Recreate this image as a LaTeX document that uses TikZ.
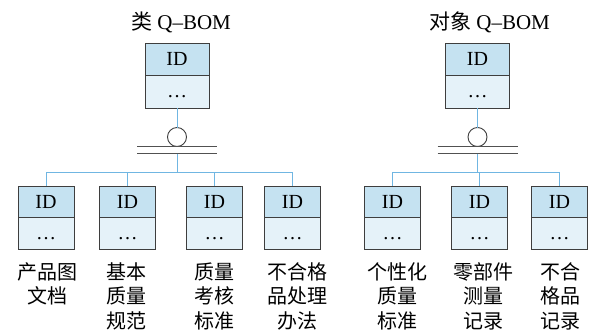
\documentclass[tikz,border=0pt]{standalone}
\usepackage{fontspec}
\setmainfont{Liberation Serif}
\newfontfamily\cjk{Noto Sans CJK SC}
\usetikzlibrary{positioning}

\definecolor{idblue}{RGB}{197,226,241}
\definecolor{dotblue}{RGB}{229,242,249}
\definecolor{boxline}{RGB}{62,62,62}
\definecolor{linkblue}{RGB}{112,182,226}

\begin{document}
\begin{tikzpicture}[x=1pt,y=-1pt,
		idcell/.style={draw=boxline,fill=idblue,line width=0.8pt,minimum width=56pt,minimum height=31.5pt,inner sep=0pt,outer sep=0pt,font=\fontsize{20}{20}\selectfont},
		dotcell/.style={idcell,fill=dotblue,text height=12pt,text depth=0pt},
		bigcell/.style={minimum width=64pt,minimum height=32.5pt},
		link/.style={draw=linkblue,line width=0.8pt},
		bar/.style={draw=boxline!90,line width=1pt},
		joint/.style={circle,draw=boxline,line width=0.9pt,minimum size=19pt,inner sep=0pt,outer sep=0pt},
		lab/.style={font=\cjk\fontsize{20}{24.5}\selectfont,align=center,inner sep=0pt},
		ttl/.style={font=\fontsize{21}{21}\selectfont,anchor=base,inner sep=0pt}]
				\useasboundingbox (0,0) rectangle (592,333);
				% class Q-BOM
				\node[ttl] (ltitle) at (181,29) {{\cjk 类} Q--BOM};
				\node[idcell,bigcell] (lid) at (177,59.25) {ID};
				\node[dotcell,bigcell,below=0pt of lid] (ldot) {\dots};
				\node[joint,below=19.5pt of ldot] (lcirc) {};
				\draw[bar] ([shift={(-40,0)}]lcirc.south) -- ([shift={(40,0)}]lcirc.south);
				\draw[bar] ([shift={(-40,7)}]lcirc.south) -- ([shift={(40,7)}]lcirc.south);
				\coordinate (lbar) at ([shift={(0,7)}]lcirc.south);
				\coordinate (lbus) at ([shift={(0,26)}]lcirc.south);
				\draw[link] (ldot.south) -- (lcirc.north);
				\draw[link] (lbar) -- (lbus);
				\foreach \n/\x/\s/\t in {c1/46/1/{产品图\\文档}, c2/127.5/-1/{基本\\质量\\规范}, c3/214.5/0/{质量\\考核\\标准}, c4/292.5/4.5/{不合格\\品处理\\办法}}{
					\node[idcell] (\n id) at (\x,202) {ID};
					\node[dotcell,below=0pt of \n id] (\n dot) {\dots};
					\node[lab,below=13pt of \n dot,xshift=\s pt] (\n lab) {\t};
					\draw[link] (lbus) -| (\n id.north);
				}
				% object Q-BOM
				\node[ttl] (rtitle) at (489.5,29) {{\cjk 对象} Q--BOM};
				\node[idcell,bigcell] (rid) at (477.5,59.25) {ID};
				\node[dotcell,bigcell,below=0pt of rid] (rdot) {\dots};
				\node[joint,below=19.5pt of rdot] (rcirc) {};
				\draw[bar] ([shift={(-40,0)}]rcirc.south) -- ([shift={(40,0)}]rcirc.south);
				\draw[bar] ([shift={(-40,7)}]rcirc.south) -- ([shift={(40,7)}]rcirc.south);
				\coordinate (rbar) at ([shift={(0,7)}]rcirc.south);
				\coordinate (rbus) at ([shift={(0,26)}]rcirc.south);
				\draw[link] (rdot.south) -- (rcirc.north);
				\draw[link] (rbar) -- (rbus);
				\foreach \n/\x/\s/\t in {d1/392.5/4.5/{个性化\\质量\\标准}, d2/479.5/3.5/{零部件\\测量\\记录}, d3/559.5/0.5/{不合\\格品\\记录}}{
					\node[idcell] (\n id) at (\x,202) {ID};
					\node[dotcell,below=0pt of \n id] (\n dot) {\dots};
					\node[lab,below=13pt of \n dot,xshift=\s pt] (\n lab) {\t};
					\draw[link] (rbus) -| (\n id.north);
				}
			\end{tikzpicture}
\end{document}
